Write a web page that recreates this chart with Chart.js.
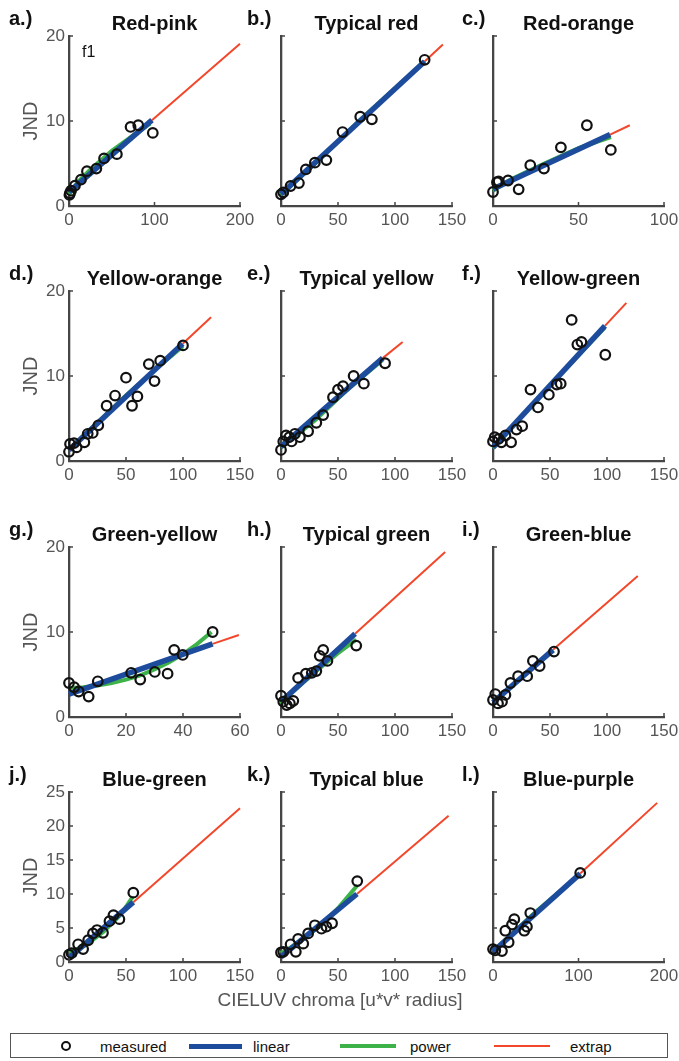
<!DOCTYPE html>
<html>
<head>
<meta charset="utf-8">
<script src="https://cdn.jsdelivr.net/npm/chart.js@4"></script>
<style>
  body { margin: 0; background: #fff; font-family: "Liberation Sans", Arial, sans-serif; }
  #fig { position: relative; width: 679px; height: 1061px; overflow: hidden; }
  #fig canvas { position: absolute; }
  .txt { position: absolute; white-space: nowrap; }
  .title { font-weight: bold; font-size: 20px; line-height: 20px; color: #111; transform: translateX(-50%); }
  .tag { font-weight: bold; font-size: 20px; line-height: 20px; color: #111; }
  .leg { font-size: 15px; line-height: 15px; color: #111; top: 1039px; }
</style>
</head>
<body>
<div id="fig"></div>
<script>
// panel order: a..l, left to right, top to bottom
const letters = ['a.)', 'b.)', 'c.)', 'd.)', 'e.)', 'f.)', 'g.)', 'h.)', 'i.)', 'j.)', 'k.)', 'l.)'];
const titles = ['Red-pink', 'Typical red', 'Red-orange', 'Yellow-orange', 'Typical yellow', 'Yellow-green',
                'Green-yellow', 'Typical green', 'Green-blue', 'Blue-green', 'Typical blue', 'Blue-purple'];
const xMax  = [200, 150, 100, 150, 150, 150, 60, 150, 150, 150, 150, 200];
const xStep = [100, 50, 50, 50, 50, 50, 20, 50, 50, 50, 50, 100];
const yMax  = [20, 20, 20, 20, 20, 20, 20, 20, 20, 25, 25, 25];
const yStep = [10, 10, 10, 10, 10, 10, 10, 10, 10, 5, 5, 5];

// measured JND vs chroma
const measuredX = [
  [0.5, 1, 2.4, 7, 14, 21, 32, 41, 56, 72, 81, 98],
  [0, 2, 8.4, 15.7, 21.8, 29.7, 39.8, 54, 69.5, 79.7, 126],
  [0, 2.3, 3.3, 8.8, 15, 21.8, 29.8, 39.7, 54.9, 68.9],
  [0, 0.9, 4.4, 6.7, 13.5, 16.4, 20.8, 25.7, 33, 40.4, 50, 55.3, 60, 70, 75, 80, 100],
  [0, 2, 4.4, 7.3, 9.3, 12.2, 16.6, 23.8, 31, 37, 45.6, 50, 54.4, 63.7, 72.7, 91.3],
  [0, 1.5, 5, 7.4, 10.9, 15.9, 20.6, 25.6, 32.9, 39.4, 49, 55.9, 59.4, 69, 74, 77.6, 98.5],
  [0, 1.8, 3.4, 6.9, 10.1, 21.8, 25, 30.1, 34.6, 36.9, 39.9, 50.4],
  [0, 2, 5, 7.8, 10.8, 15, 21.8, 27, 31, 34, 37, 40.7, 66],
  [0, 2, 4.4, 7.9, 10.9, 15.3, 22, 30, 35, 40.9, 53.5],
  [0, 2.3, 8, 12.4, 16.8, 21, 24.6, 29.8, 35.5, 39, 44.2, 56.4],
  [0, 2, 8.4, 13, 15, 19.5, 23.8, 29.7, 35.5, 39.8, 44.8, 66.9],
  [0, 2.7, 10.5, 14.4, 18.3, 22.2, 24.9, 36.6, 39.7, 43.6, 102]
];
const measuredY = [
  [1.3, 1.5, 1.8, 2.4, 3.1, 4.1, 4.4, 5.6, 6.1, 9.3, 9.5, 8.6],
  [1.37, 1.6, 2.35, 2.7, 4.3, 5.1, 5.4, 8.7, 10.5, 10.2, 17.2],
  [1.65, 2.8, 2.9, 3.0, 1.96, 4.8, 4.4, 6.9, 9.5, 6.6],
  [1.08, 2.0, 2.1, 1.6, 2.2, 3.2, 3.3, 4.2, 6.5, 7.7, 9.8, 6.5, 7.6, 11.4, 9.4, 11.8, 13.6],
  [1.3, 2.3, 3.0, 2.8, 2.3, 3.2, 2.8, 3.5, 4.5, 5.4, 7.5, 8.4, 8.8, 10.0, 9.1, 11.5],
  [2.3, 2.8, 2.6, 2.2, 3.0, 2.2, 3.7, 4.1, 8.4, 6.3, 7.8, 9.0, 9.1, 16.6, 13.7, 14.0, 12.5],
  [4.0, 3.5, 3.0, 2.4, 4.2, 5.2, 4.4, 5.3, 5.1, 7.9, 7.3, 10.0],
  [2.5, 1.8, 1.4, 1.6, 1.9, 4.6, 5.1, 5.2, 5.4, 7.2, 7.9, 6.6, 8.4],
  [2.0, 2.7, 1.6, 1.8, 2.6, 4.0, 4.8, 4.8, 6.6, 6.0, 7.7],
  [1.07, 1.3, 2.6, 1.9, 3.2, 4.2, 4.7, 4.3, 6.0, 6.9, 6.3, 10.2],
  [1.4, 1.5, 2.6, 1.5, 3.4, 2.7, 4.2, 5.4, 4.9, 5.2, 5.7, 11.9],
  [1.9, 1.7, 1.6, 4.6, 2.9, 5.5, 6.3, 4.6, 5.2, 7.2, 13.1]
];

// linear fit: [x0, y0, x1, y1]
const linearFit = [
  [0, 1.65, 97, 10.1], [0, 1.4, 126, 17.0], [0, 2.0, 68.5, 8.4],
  [0, 1.3, 99.7, 13.8], [0, 1.7, 89.2, 12.1], [0, 1.6, 98.2, 15.9],
  [0, 2.7, 50.4, 8.6], [0, 1.8, 65, 9.8], [0, 1.7, 52.6, 7.9],
  [0, 0.6, 56.4, 8.8], [0, 0.74, 66.6, 10.0], [0, 1.5, 102, 13.0]
];

// power fit curve, sampled
const powerX = [
  [0, 10, 25, 50, 75, 95],
  [0, 30, 70, 126],
  [0, 10, 30, 50, 69],
  [0, 25, 50, 75, 100],
  [0, 30, 60, 89],
  [0, 50, 98],
  [0, 5, 10, 15, 20, 25, 30, 35, 40, 45, 50],
  [0, 10, 30, 50, 66],
  [0, 25, 53],
  [0, 15, 30, 45, 56],
  [0, 10, 20, 35, 50, 67],
  [0, 50, 102]
];
const powerY = [
  [1.3, 2.8, 4.3, 6.5, 8.3, 9.7],
  [1.3, 5.0, 10.2, 17.0],
  [1.8, 3.1, 5.0, 6.8, 8.1],
  [1.4, 4.5, 7.7, 10.7, 13.5],
  [1.6, 4.8, 8.6, 11.9],
  [1.5, 8.9, 15.7],
  [3.4, 3.5, 3.7, 4.0, 4.4, 4.9, 5.6, 6.4, 7.4, 8.6, 10.0],
  [1.5, 2.9, 5.3, 7.5, 9.1],
  [1.8, 4.7, 7.8],
  [1.4, 2.5, 4.4, 6.9, 9.6],
  [1.3, 2.3, 3.5, 5.4, 7.9, 11.3],
  [1.6, 7.4, 12.9]
];

// extrapolated end of the linear fit: [x, y]
const extrapEnd = [
  [200, 19.1], [142, 19.0], [80, 9.5],
  [124.6, 16.9], [106.7, 14.0], [117, 18.6],
  [59.6, 9.65], [144, 19.4], [127, 16.6],
  [150, 22.6], [147, 21.5], [192, 23.4]
];

const colLeft = [69, 281, 493];
const rowTop = [36, 291, 547, 792];
const plotW = 171, plotH = 170;
const axisColor = '#464646';
const tickColor = '#555';
const fontFam = '"Liberation Sans", Arial, sans-serif';

const padL = 50, padT = 14, padR = 20, padB = 32;

// MATLAB style tick marks pointing into the plot
const innerTicks = {
  id: 'innerTicks',
  afterDraw(chart) {
    const { ctx, chartArea: a, scales: { x, y } } = chart;
    ctx.save();
    ctx.strokeStyle = axisColor;
    ctx.lineWidth = 1.5;
    ctx.beginPath();
    x.ticks.forEach(t => {
      const px = x.getPixelForValue(t.value);
      ctx.moveTo(px, a.bottom);
      ctx.lineTo(px, a.bottom - 4);
    });
    y.ticks.forEach(t => {
      const py = y.getPixelForValue(t.value);
      ctx.moveTo(a.left, py);
      ctx.lineTo(a.left + 4, py);
    });
    ctx.stroke();
    ctx.restore();
  }
};

const fig = document.getElementById('fig');

function addText(cls, text, left, top, extra) {
  const d = document.createElement('div');
  d.className = 'txt ' + cls;
  d.textContent = text;
  d.style.left = left + 'px';
  d.style.top = top + 'px';
  if (extra) Object.assign(d.style, extra);
  fig.appendChild(d);
  return d;
}

function pts(xs, ys) {
  return xs.map((x, i) => ({ x: x, y: ys[i] }));
}

const tagLeft = [9, 247, 462];

for (let i = 0; i < 12; i++) {
  const col = i % 3, row = Math.floor(i / 3);
  const L = colLeft[col], T = rowTop[row];

  const canvas = document.createElement('canvas');
  canvas.width = plotW + padL + padR;
  canvas.height = plotH + padT + padB;
  canvas.style.left = (L - padL) + 'px';
  canvas.style.top = (T - padT) + 'px';
  fig.appendChild(canvas);

  addText('title', titles[i], L + plotW / 2, T - 23);
  addText('tag', letters[i], tagLeft[col], T - 28);

  const lin = linearFit[i];
  const ext = extrapEnd[i];

  new Chart(canvas.getContext('2d'), {
    type: 'scatter',
    data: {
      datasets: [
        {
          label: 'measured',
          data: pts(measuredX[i], measuredY[i]),
          pointStyle: 'circle',
          pointRadius: 4.8,
          pointBorderWidth: 2.2,
          pointBorderColor: '#111',
          pointBackgroundColor: 'rgba(0,0,0,0)',
          showLine: false,
          order: 0
        },
        {
          label: 'linear',
          data: [{ x: lin[0], y: lin[1] }, { x: lin[2], y: lin[3] }],
          showLine: true,
          borderColor: '#1d4c9c',
          borderWidth: 5.5,
          pointRadius: 0,
          order: 1
        },
        {
          label: 'power',
          data: pts(powerX[i], powerY[i]),
          showLine: true,
          borderColor: '#3db248',
          borderWidth: 4,
          pointRadius: 0,
          order: 2
        },
        {
          label: 'extrap',
          data: [{ x: lin[2], y: lin[3] }, { x: ext[0], y: ext[1] }],
          showLine: true,
          borderColor: '#f2472a',
          borderWidth: 2,
          pointRadius: 0,
          order: 3
        }
      ]
    },
    options: {
      responsive: false,
      animation: false,
      devicePixelRatio: 1,
      clip: false,
      layout: { padding: { left: 0, top: padT, right: padR, bottom: 2 } },
      plugins: { legend: { display: false }, tooltip: { enabled: false } },
      scales: {
        x: {
          type: 'linear',
          min: 0,
          max: xMax[i],
          ticks: {
            stepSize: xStep[i],
            color: tickColor,
            font: { family: fontFam, size: 17 },
            padding: 4,
            maxRotation: 0,
            autoSkip: false
          },
          grid: { display: false, drawTicks: false },
          border: { display: true, color: axisColor, width: 2.3 },
          afterFit(s) { s.height = padB - 2; s.paddingLeft = 0; s.paddingRight = 0; }
        },
        y: {
          type: 'linear',
          min: 0,
          max: yMax[i],
          ticks: {
            stepSize: yStep[i],
            display: col === 0,
            color: tickColor,
            font: { family: fontFam, size: 17 },
            padding: 4
          },
          title: {
            display: col === 0,
            text: 'JND',
            color: tickColor,
            font: { family: fontFam, size: 20 },
            padding: 0
          },
          grid: { display: false, drawTicks: false },
          border: { display: true, color: axisColor, width: 2.3 },
          afterFit(s) { s.width = padL; s.paddingTop = 0; s.paddingBottom = 0; }
        }
      }
    },
    plugins: [innerTicks]
  });
}

// annotation inside panel a
addText('', 'f1', 82, 44, { fontSize: '16px', lineHeight: '16px', color: '#111' });

// shared x axis label
addText('', 'CIELUV chroma [u*v* radius]', 340, 990,
  { fontSize: '19px', lineHeight: '19px', color: tickColor, transform: 'translateX(-50%)' });

// shared legend
const box = document.createElement('div');
Object.assign(box.style, {
  position: 'absolute', left: '10px', top: '1033px', width: '658px', height: '25px',
  border: '1.5px solid #555', boxSizing: 'border-box'
});
fig.appendChild(box);

const marker = document.createElement('div');
Object.assign(marker.style, {
  position: 'absolute', left: '61px', top: '1041px', width: '10px', height: '10px',
  border: '2px solid #111', borderRadius: '50%', boxSizing: 'border-box'
});
fig.appendChild(marker);
addText('leg', 'measured', 100, 1039);

function legLine(left, width, height, color) {
  const d = document.createElement('div');
  Object.assign(d.style, {
    position: 'absolute', left: left + 'px', width: width + 'px', height: height + 'px',
    top: (1046 - height / 2) + 'px', background: color
  });
  fig.appendChild(d);
}
legLine(189, 53, 5, '#1d4c9c');
addText('leg', 'linear', 253, 1039);
legLine(340, 56, 4, '#3db248');
addText('leg', 'power', 410, 1039);
legLine(494, 56, 2, '#f2472a');
addText('leg', 'extrap', 570, 1039);
</script>
</body>
</html>
